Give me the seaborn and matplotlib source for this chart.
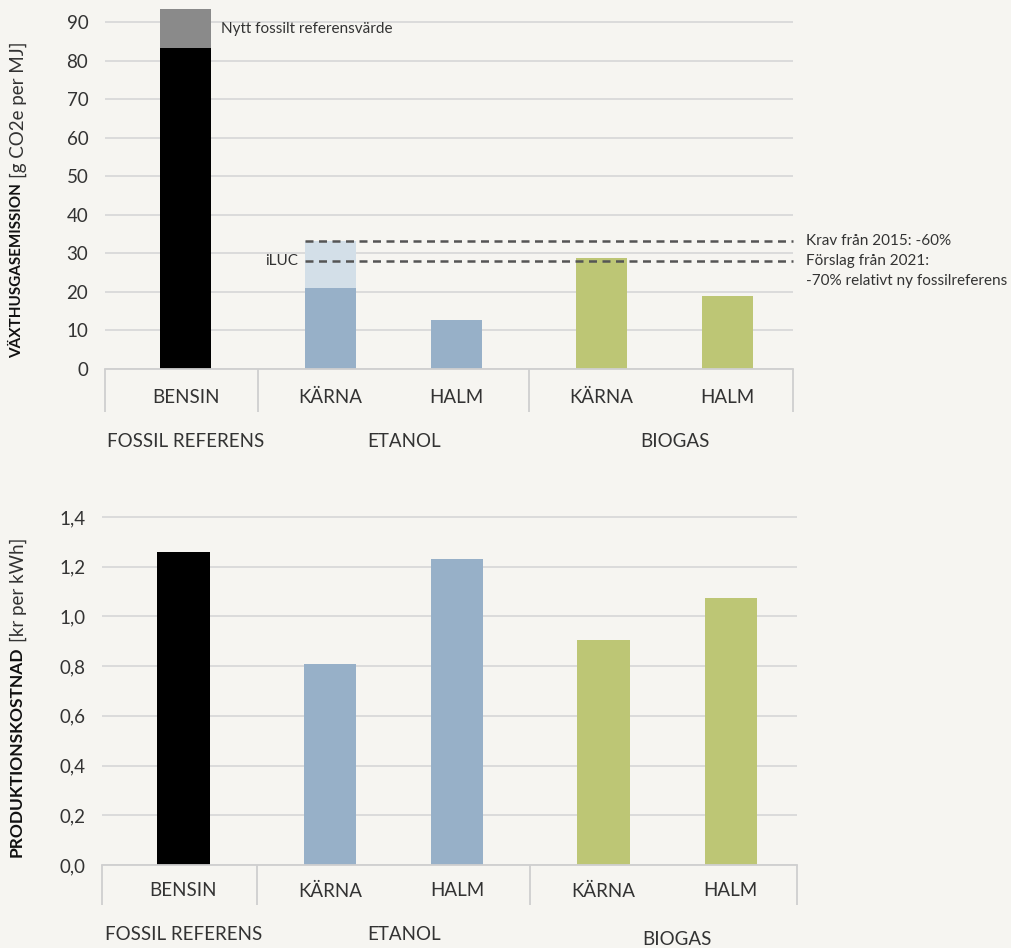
import matplotlib
matplotlib.use("Agg")
import matplotlib.pyplot as plt
import matplotlib.transforms as mtransforms
from matplotlib.ticker import FuncFormatter, FixedLocator
import seaborn as sns
import pandas as pd
import numpy as np

# ---------------- data ----------------
categories = ["BENSIN", "KÄRNA", "HALM", "KÄRNA", "HALM"]
groups = ["FOSSIL REFERENS", "ETANOL", "BIOGAS"]
group_of = [0, 1, 1, 2, 2]
emission_base = [83.3, 21.0, 12.7, 28.8, 18.9]      # g CO2e per MJ
emission_extra = [10.1, 12.2, 0.0, 0.0, 0.0]        # new fossil ref / iLUC
cost = [1.26, 0.81, 1.23, 0.905, 1.075]             # kr per kWh
krav_2015 = 33.3
forslag_2021 = 28.0

base_colors = ["#000000", "#97b0c8", "#97b0c8", "#bdc675", "#bdc675"]
extra_colors = ["#8a8a8a", "#d3dfe8", "#97b0c8", "#bdc675", "#bdc675"]

# ---------------- layout ----------------
GAP = 0.15
pos = []
x = 0.0
for i, g in enumerate(group_of):
    if i > 0:
        x += 1.0 + (GAP if g != group_of[i - 1] else 0.0)
    pos.append(round(x, 3))
seps = [(pos[i] + pos[i + 1]) / 2 for i in range(len(pos) - 1) if group_of[i] != group_of[i + 1]]
BAR_W = 0.41
XL = (-0.64, 4.82)

sns.set_theme(style="white")
FONT = ["Lato", "DejaVu Sans"]
plt.rcParams["font.family"] = FONT
BG = "#f6f5f1"
TXT = "#333333"
GRID = "#d9d9d9"

fig = plt.figure(figsize=(10.11, 9.48), dpi=100, facecolor=BG)
W, H = 1011, 948

def px_axes(l, r, top, bottom):
    return fig.add_axes([l / W, 1 - bottom / H, (r - l) / W, (bottom - top) / H])

ax1 = px_axes(105, 793, 2.7, 369)
ax2 = px_axes(102, 797, 512, 865)

keys = [str(i) for i in range(len(pos))]

def draw_bars(ax, vals, colors):
    df = pd.DataFrame({"x": pos, "y": vals, "k": keys})
    sns.barplot(data=df, x="x", y="y", hue="k", palette=dict(zip(keys, colors)),
                native_scale=True, dodge=False, legend=False, width=BAR_W,
                linewidth=0, saturation=1, ax=ax, zorder=3)

# top chart
totals = [b + e for b, e in zip(emission_base, emission_extra)]
draw_bars(ax1, totals, extra_colors)
draw_bars(ax1, emission_base, base_colors)
# bottom chart
draw_bars(ax2, cost, base_colors)

def style_axes(ax, ylim, yticks, fmt, sep_len, pad):
    ax.set_facecolor(BG)
    ax.set_xlim(*XL)
    ax.set_ylim(*ylim)
    ax.set_yticks(yticks)
    ax.yaxis.set_major_formatter(FuncFormatter(fmt))
    ax.yaxis.grid(True, color=GRID, lw=1.3, zorder=0)
    ax.set_axisbelow(True)
    for s in ["top", "right", "left"]:
        ax.spines[s].set_visible(False)
    ax.spines["bottom"].set_color("#cfcfcf")
    ax.spines["bottom"].set_linewidth(1.3)
    ax.spines["bottom"].set_zorder(4)
    ax.set_xticks(pos)
    ax.set_xticklabels(categories)
    ax.xaxis.set_minor_locator(FixedLocator([XL[0] + 0.002] + seps + [XL[1] - 0.002]))
    ax.tick_params(axis="x", which="major", length=0, pad=pad, labelsize=13.5, labelcolor=TXT)
    ax.tick_params(axis="x", which="minor", bottom=True, length=sep_len, width=1.3,
                   color="#cfcfcf", direction="out")
    ax.tick_params(axis="y", length=0, pad=12, labelsize=13.5, labelcolor=TXT)
    ax.set_xlabel("")
    ax.set_ylabel("")

style_axes(ax1, (0, 95), range(0, 91, 10), lambda v, p: f"{int(v)}", 31, 14.5)
style_axes(ax2, (0, 1.42), np.arange(0, 1.41, 0.2), lambda v, p: f"{v:.1f}".replace(".", ","), 29, 12.5)

# group labels
def group_labels(ax, offset_px, extra):
    trans = mtransforms.blended_transform_factory(ax.transData, ax.transAxes)
    for gi, g in enumerate(groups):
        xs = [p for p, gg in zip(pos, group_of) if gg == gi]
        cx = np.mean(xs) + (0.08 if gi > 0 else 0.0)
        ax.annotate(g, xy=(cx, 0), xycoords=trans, xytext=(0, -offset_px * 0.72 - extra[gi]),
                    textcoords="offset points", ha="center", va="center",
                    fontsize=13.5, color=TXT, annotation_clip=False)

group_labels(ax1, 72, [0, 0, 0])
group_labels(ax2, 69, [0, 0, 4])

# dashed requirement lines
x0 = pos[1] - BAR_W / 2
for yv in [krav_2015, forslag_2021]:
    ax1.plot([x0, XL[1]], [yv, yv], ls=(0, (3.2, 2.2)), color="#555555", lw=1.8, zorder=5,
             clip_on=False)

ax1.annotate("iLUC", xy=(x0, forslag_2021), xytext=(-5, 0), textcoords="offset points",
             ha="right", va="center", fontsize=11, color=TXT)
ax1.annotate("Krav från 2015: -60%", xy=(1, krav_2015), xycoords=("axes fraction", "data"),
             xytext=(9, 0), textcoords="offset points", ha="left", va="center",
             fontsize=11, color=TXT, annotation_clip=False)
ax1.annotate("Förslag från 2021:", xy=(1, forslag_2021),
             xycoords=("axes fraction", "data"), xytext=(9, 0), textcoords="offset points",
             ha="left", va="center", fontsize=11, color=TXT, annotation_clip=False)
ax1.annotate("-70% relativt ny fossilreferens", xy=(1, forslag_2021),
             xycoords=("axes fraction", "data"), xytext=(9, -14.4), textcoords="offset points",
             ha="left", va="center", fontsize=11, color=TXT, annotation_clip=False)
ax1.annotate("Nytt fossilt referensvärde", xy=(pos[0] + BAR_W / 2, 88.3), xytext=(7, 0),
             textcoords="offset points", ha="left", va="center", fontsize=11, color=TXT)

# y labels (bold part + normal part)
def ylabel(bold, normal, y_bottom_px, bsize, nsize):
    t1 = fig.text(17 / W, 1 - y_bottom_px / H, bold, rotation=90, ha="center", va="bottom",
                  fontsize=bsize, fontweight="bold", color="#111111")
    fig.canvas.draw()
    bb = t1.get_window_extent(fig.canvas.get_renderer())
    top = bb.y1 / fig.dpi / fig.get_size_inches()[1]
    fig.text(18 / W, top + 5 / H, normal, rotation=90, ha="center", va="bottom",
             fontsize=nsize, color=TXT)

ylabel("VÄXTHUSGASEMISSION", "[g CO2e per MJ]", 358, 11, 13.5)
ylabel("PRODUKTIONSKOSTNAD", "[kr per kWh]", 857, 12.5, 13.5)

fig.savefig("out.png", dpi=100, facecolor=BG)
